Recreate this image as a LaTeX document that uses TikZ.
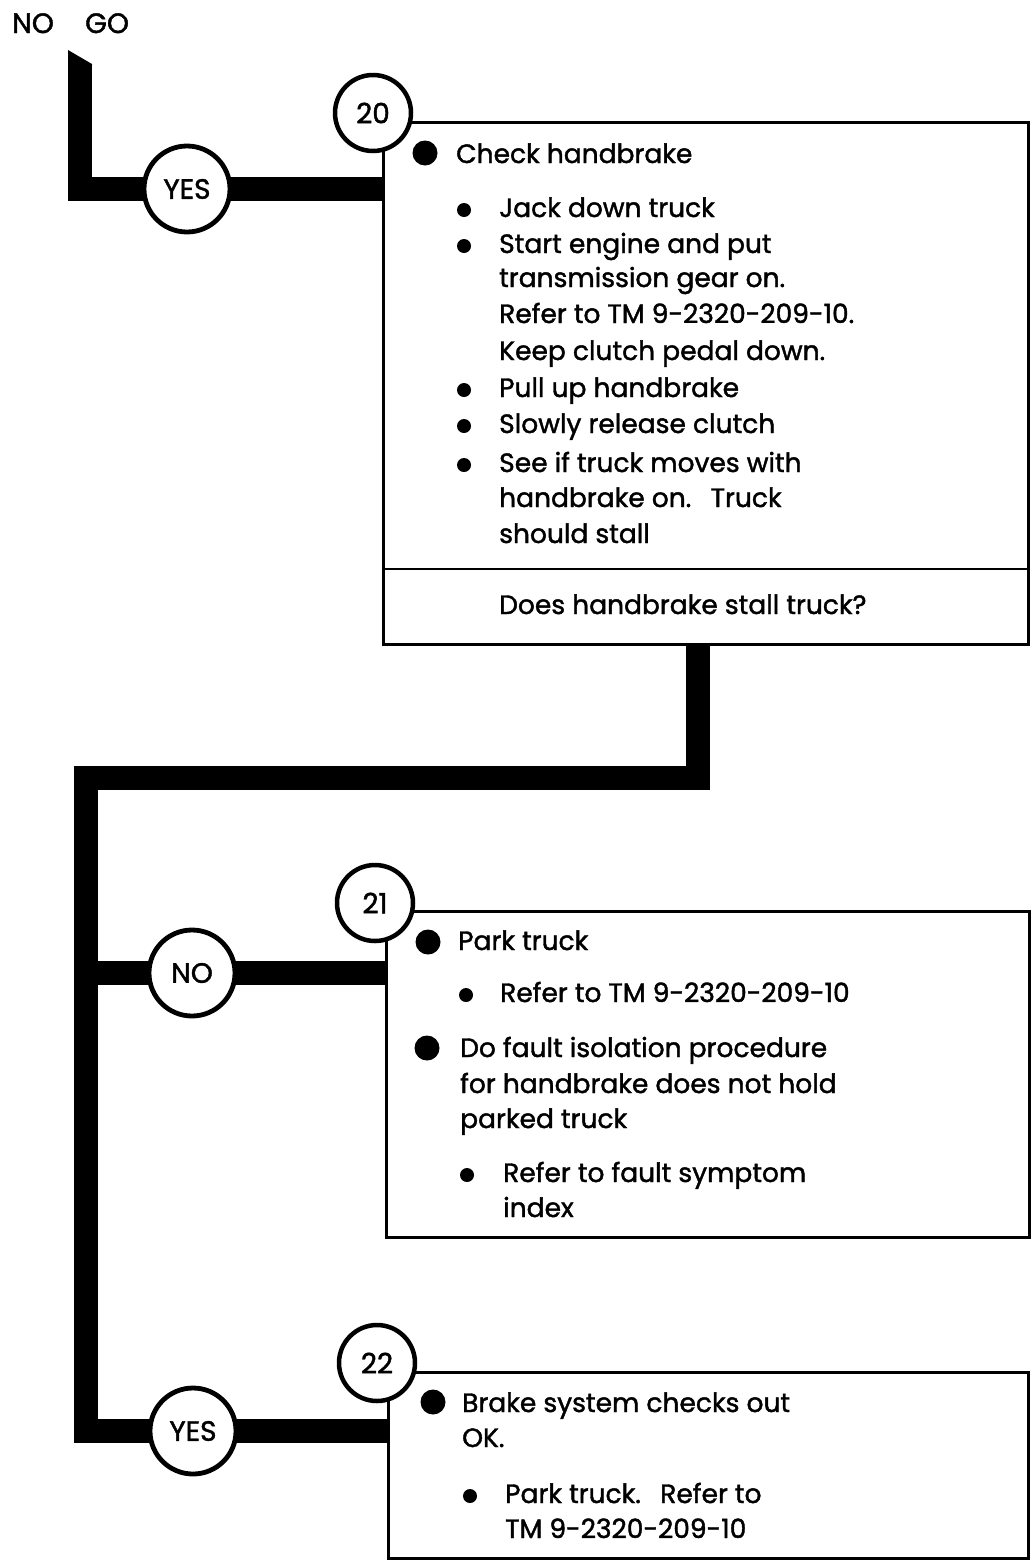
\documentclass[tikz,border=0pt]{standalone}
\usepackage{fontspec}
\setmainfont{Poppins}[FakeBold=1.5]
\usetikzlibrary{backgrounds}
\newcommand\tline[3]{\node[txt] (#1) at (#2) {#3};}
\begin{document}
\begin{tikzpicture}[x=1pt,y=-1pt,
  bar/.style={line width=24pt, line join=miter, line cap=butt},
  box/.style={draw, line width=2.8pt, inner sep=0pt, anchor=north west},
  sepline/.style={line width=2.8pt},
  numcircle/.style={circle, draw, line width=4.5pt, fill=white, minimum size=76pt, inner sep=0pt, font=\fontsize{28}{28}\selectfont},
  anscircle/.style={circle, draw, line width=4.8pt, fill=white, minimum size=86pt, inner sep=0pt, font=\fontsize{28}{28}\selectfont},
  txt/.style={anchor=base west, inner sep=0pt, font=\fontsize{26.5}{26.5}\selectfont},
  bigdot/.style={circle, fill=black, inner sep=0pt, minimum size=25pt},
  smalldot/.style={circle, fill=black, inner sep=0pt, minimum size=14pt}]
\useasboundingbox (0,0) rectangle (1035,1561);

% title
\node[txt] (no) at (12,33) {\fontsize{28}{28}\selectfont NO};
\node[txt] (go) at (85,33) {\fontsize{28}{28}\selectfont GO};

% boxes
\node[box, minimum width=645pt, minimum height=522pt] (b20) at (382,121) {};
\node[box, minimum width=643pt, minimum height=326pt] (b21) at (385,910) {};
\node[box, minimum width=640pt, minimum height=186pt] (b22) at (387,1371) {};
\coordinate (sep) at (0,569);
\draw[sepline] (b20.west |- sep) -- (b20.east |- sep);

% circles
\node[numcircle] (c20) at (373,113) {20};
\node[numcircle] (c21) at (375,903) {21};
\node[numcircle] (c22) at (377,1363) {22};
\node[anscircle] (yesA) at (187,189) {YES};
\node[anscircle] (noA) at (192,973) {NO};
\node[anscircle] (yesB) at (193,1431) {YES};

% connectors
\coordinate (start) at (80,64);
\coordinate (drop) at (698,643);
\coordinate (j1) at (86,778);
\begin{pgfonlayer}{background}
\fill[white] (0,0) rectangle (1035,1561);
\fill (68,65) -- (68,50) -- (92,64) -- (92,65) -- cycle;
\draw[bar] (start) |- (yesA.center) -- (yesA.center -| b20.west);
\draw[bar] (drop) |- (j1) |- (yesB.center) -- (yesB.center -| b22.west);
\draw[bar] (j1 |- noA.center) -- (noA.center -| b21.west);
\end{pgfonlayer}

% box 20 text
\node[bigdot] (d20a) at (425,153) {};
\tline{t20a}{456,163}{Check handbrake}
\node[smalldot] (d20b) at (464,210) {};
\tline{t20b}{499,217}{Jack down truck}
\node[smalldot] (d20c) at (464,246) {};
\tline{t20c}{499,253}{Start engine and put}
\tline{t20d}{499,287}{transmission gear on.}
\tline{t20e}{499,323}{Refer to TM 9-2320-209-10.}
\tline{t20f}{499,360}{Keep clutch pedal down.}
\node[smalldot] (d20g) at (464,390) {};
\tline{t20g}{499,397}{Pull up handbrake}
\node[smalldot] (d20h) at (464,426) {};
\tline{t20h}{499,433}{Slowly release clutch}
\node[smalldot] (d20i) at (464,465) {};
\tline{t20i}{499,472}{See if truck moves with}
\tline{t20j}{499,507}{handbrake on.\hspace{10pt} Truck}
\tline{t20k}{499,543}{should stall}
\tline{t20q}{499,614}{Does handbrake stall truck?}

% box 21 text
\node[bigdot] (d21a) at (428,942) {};
\tline{t21a}{458,950}{Park truck}
\node[smalldot] (d21b) at (466,995) {};
\tline{t21b}{500,1002}{Refer to TM 9-2320-209-10}
\node[bigdot] (d21c) at (427,1048) {};
\tline{t21c}{460,1057}{Do fault isolation procedure}
\tline{t21d}{460,1093}{for handbrake does not hold}
\tline{t21e}{460,1128}{parked truck}
\node[smalldot] (d21f) at (467,1175) {};
\tline{t21f}{503,1182}{Refer to fault symptom}
\tline{t21g}{503,1217}{index}

% box 22 text
\node[bigdot] (d22a) at (433,1402) {};
\tline{t22a}{462,1412}{Brake system checks out}
\tline{t22b}{462,1447}{OK.}
\node[smalldot] (d22c) at (470,1496) {};
\tline{t22c}{505,1503}{Park truck.\hspace{10pt} Refer to}
\tline{t22d}{505,1538}{TM 9-2320-209-10}
\end{tikzpicture}
\end{document}
